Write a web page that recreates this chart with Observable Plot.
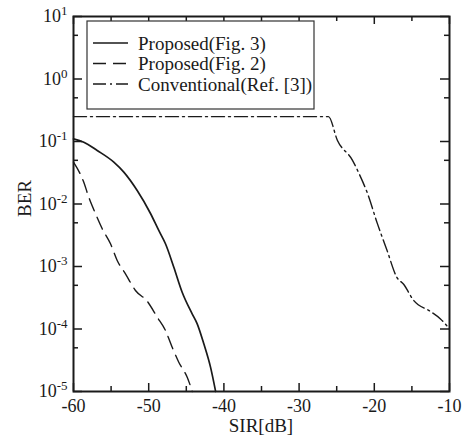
<!DOCTYPE html>
<html><head><meta charset="utf-8">
<script src="https://cdn.jsdelivr.net/npm/d3@7"></script>
<script src="https://cdn.jsdelivr.net/npm/@observablehq/plot@0.6"></script>
<style>body{margin:0;background:#fff} #chart{width:465px;height:441px}</style>
</head><body><div id="chart"></div>
<script>
// Proposed (Fig. 3) - solid
const fig3X = [-60, -58.63, -56.85, -54.64, -53.31, -51.53, -49.76, -48.66, -47.77, -46.66, -45.55, -44.22, -43.55, -42.67, -41.78, -41.1];
const fig3Y = [0.110, 0.0975, 0.0718, 0.0467, 0.0323, 0.0164, 0.00705, 0.00377, 0.00231, 0.000975, 0.000388, 0.000175, 0.000121, 0.0000579, 0.0000245, 0.00001];
// Proposed (Fig. 2) - dashed
const fig2X = [-60, -58.63, -57.97, -57.07, -56.18, -55.08, -54.19, -53.09, -51.76, -50.2, -48.87, -47.77, -46.88, -46.0, -44.88, -44.2];
const fig2Y = [0.0467, 0.0223, 0.01285, 0.00697, 0.00401, 0.00231, 0.00125, 0.000764, 0.000413, 0.000279, 0.000155, 0.0000946, 0.0000512, 0.0000294, 0.0000169, 0.00001];
// Conventional (Ref. [3]) - dash-dot
const convX = [-60, -26.1, -24.9, -22.9, -22.1, -20.9, -19.6, -18.3, -17.0, -16.1, -14.8, -12.5, -11.2, -10];
const convY = [0.25, 0.25, 0.104, 0.050, 0.032, 0.0147, 0.0049, 0.0018, 0.00067, 0.00052, 0.00029, 0.00019, 0.000145, 0.0001];

const xMajor = [-60, -50, -40, -30, -20, -10];
const xMinor = [-55, -45, -35, -25, -15];
const yMajor = [1e-5, 1e-4, 1e-3, 1e-2, 1e-1, 1, 10];
const yMinor = [5e-5, 5e-4, 5e-3, 5e-2, 5e-1, 5];
const legendLabels = ["Proposed(Fig. 3)", "Proposed(Fig. 2)", "Conventional(Ref. [3])"];
const xLabel = "SIR[dB]";
const yLabel = "BER";

const rows = (xs, ys) => xs.map((x, i) => ({x, y: ys[i]}));
const ink = "#1a1a1a";
const dashes = [null, "13,7", "13,4,2,4"];
const widths = [1.7, 1.4, 1.4];

const W = 465, H = 441, mT = 16, mB = 50, mL = 73, mR = 16;
const ph = H - mT - mB, pw = W - mL - mR;

const plot = Plot.plot({
  width: W, height: H, marginTop: mT, marginBottom: mB, marginLeft: mL, marginRight: mR,
  style: {fontFamily: "'Liberation Serif', 'Times New Roman', serif", fontSize: "18px", color: ink, background: "#fff"},
  x: {domain: [-60, -10], label: null},
  y: {type: "log", domain: [1e-5, 10], label: null},
  marks: [
    Plot.line(rows(fig3X, fig3Y), {x: "x", y: "y", stroke: ink, strokeWidth: widths[0], curve: "monotone-x"}),
    Plot.line(rows(fig2X, fig2Y), {x: "x", y: "y", stroke: ink, strokeWidth: widths[1], strokeDasharray: dashes[1], curve: "monotone-x"}),
    Plot.line(rows(convX, convY), {x: "x", y: "y", stroke: ink, strokeWidth: widths[2], strokeDasharray: dashes[2], curve: "monotone-x"}),
    Plot.tickX(xMajor, {x: d => d, insetTop: ph - 8, stroke: ink, strokeWidth: 1.5}),
    Plot.tickX(xMajor, {x: d => d, insetBottom: ph - 8, stroke: ink, strokeWidth: 1.5}),
    Plot.tickX(xMinor, {x: d => d, insetTop: ph - 5, stroke: ink, strokeWidth: 1.5}),
    Plot.tickX(xMinor, {x: d => d, insetBottom: ph - 5, stroke: ink, strokeWidth: 1.5}),
    Plot.tickY(yMajor, {y: d => d, insetRight: pw - 9, stroke: ink, strokeWidth: 1.5}),
    Plot.tickY(yMajor, {y: d => d, insetLeft: pw - 9, stroke: ink, strokeWidth: 1.5}),
    Plot.tickY(yMinor, {y: d => d, insetRight: pw - 5, stroke: ink, strokeWidth: 1.5}),
    Plot.tickY(yMinor, {y: d => d, insetLeft: pw - 5, stroke: ink, strokeWidth: 1.5}),
    Plot.axisX({ticks: xMajor, tickSize: 0, tickPadding: 8, tickFormat: d => String(d), fill: ink}),
    Plot.axisY({ticks: yMajor, tickSize: 0, tickPadding: 6, tickFormat: d => String(Math.round(Math.log10(d))), fill: ink}),
    Plot.frame({stroke: ink, strokeWidth: 2})
  ]
});

const svg = d3.select(plot);
// superscript exponents on y tick labels
svg.selectAll('g[aria-label="y-axis tick label"] text').each(function () {
  const e = this.textContent;
  const t = d3.select(this);
  t.text(null);
  t.append("tspan").text("10");
  t.append("tspan").attr("dy", "-7").attr("font-size", "13px").text(e);
});

// axis labels
svg.append("text").attr("x", mL + pw / 2).attr("y", 432).attr("text-anchor", "middle")
  .attr("font-size", "19px").attr("fill", ink).text(xLabel);
svg.append("text").attr("transform", `translate(31,${mT + ph / 2 - 5}) rotate(-90)`).attr("text-anchor", "middle")
  .attr("font-size", "19px").attr("fill", ink).text(yLabel);

// legend
const lg = svg.append("g");
lg.append("rect").attr("x", 87).attr("y", 21).attr("width", 227).attr("height", 88)
  .attr("fill", "#fff").attr("stroke", "#333").attr("stroke-width", 1.2);
const rowY = [43, 63.5, 84];
legendLabels.forEach((lab, i) => {
  lg.append("line").attr("x1", 93).attr("x2", 128).attr("y1", rowY[i]).attr("y2", rowY[i])
    .attr("stroke", ink).attr("stroke-width", widths[i]).attr("stroke-dasharray", dashes[i]);
  lg.append("text").attr("x", 138).attr("y", rowY[i] + 6.5).attr("font-size", "19px")
    .attr("text-anchor", "start").attr("fill", ink).text(lab);
});

document.getElementById("chart").appendChild(plot);
</script>
</body></html>
